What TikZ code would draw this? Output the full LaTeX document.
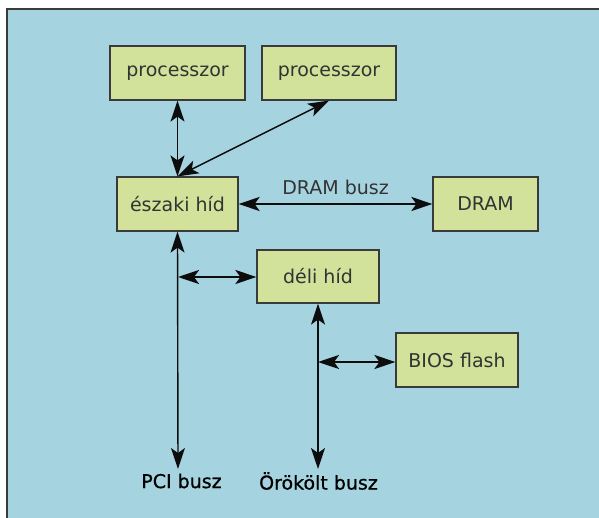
\documentclass[tikz,border=0pt]{standalone}
\usepackage{fontspec}
\setmainfont{DejaVu Sans}
\newfontfamily\busfont{DejaVu Sans}[FakeBold=0.8]
\usetikzlibrary{arrows.meta}
\definecolor{bgblue}{HTML}{A5D4E0}
\definecolor{boxgreen}{HTML}{D2E29A}
\definecolor{boxline}{HTML}{3A3A3A}
\definecolor{txtgray}{HTML}{333333}
\tikzset{
  unit/.style={draw=boxline,fill=boxgreen,line width=1.2pt,minimum height=54pt,
    inner sep=0pt,text=txtgray,font=\fontsize{19}{22}\selectfont},
  buslabel/.style={text=black,font=\busfont\fontsize{19}{22}\selectfont,inner sep=1pt},
  bustip/.tip={Stealth[length=21pt,width=14pt,inset=5pt]},
  link/.style={line width=1.4pt,color=black!95,bustip-bustip},
  thicklink/.style={link,line width=2.4pt},
}
\begin{document}
\begin{tikzpicture}[x=1pt,y=-1pt]
        \useasboundingbox (0,0) rectangle (599,518);
        %% Background panel
        \fill[bgblue] (7,9) rectangle (599,518);
        \draw[boxline,line width=1.6pt] (7,518) -- (7,9) -- (599,9);
        %% Units
        \node[unit,minimum width=135pt] (proc1) at (177.5,73) {processzor};
        \node[unit,minimum width=134pt] (proc2) at (329,73) {processzor};
        \node[unit,minimum width=121pt] (north) at (177.5,204) {északi híd};
        \node[unit,minimum width=105pt] (dram) at (485.5,204) {DRAM};
        \node[unit,minimum width=122pt,minimum height=53pt] (south) at (318,276.5) {déli híd};
        \node[unit,minimum width=122pt] (bios) at (457,360) {BIOS flash};
        %% Bus labels
        \node[buslabel] (pci) at (181.5,481) {PCI busz};
        \node[buslabel] (legacy) at (318.5,481) {Örökölt busz};
        \coordinate (pciend) at (178,469);
        \coordinate (legend) at (318,469);
        \coordinate (pcitap) at (178,277);
        \coordinate (legtap) at (318,362);
        %% Processor links
        \draw[link] (proc1.south) -- (north.north);
        \draw[link] (proc2.south) -- (north.north);
        %% DRAM bus
        \draw[thicklink] (north.east) -- (dram.west)
          node[midway,above,yshift=5pt,text=txtgray,font=\fontsize{19}{22}\selectfont] {DRAM busz};
        %% PCI and legacy buses
        \draw[link] (north.south) -- (pciend);
        \draw[thicklink] (pcitap) -- (pcitap -| south.west);
        \draw[link] (south.south) -- (legend);
        \draw[thicklink] (legtap) -- (legtap -| bios.west);
\end{tikzpicture}
\end{document}
